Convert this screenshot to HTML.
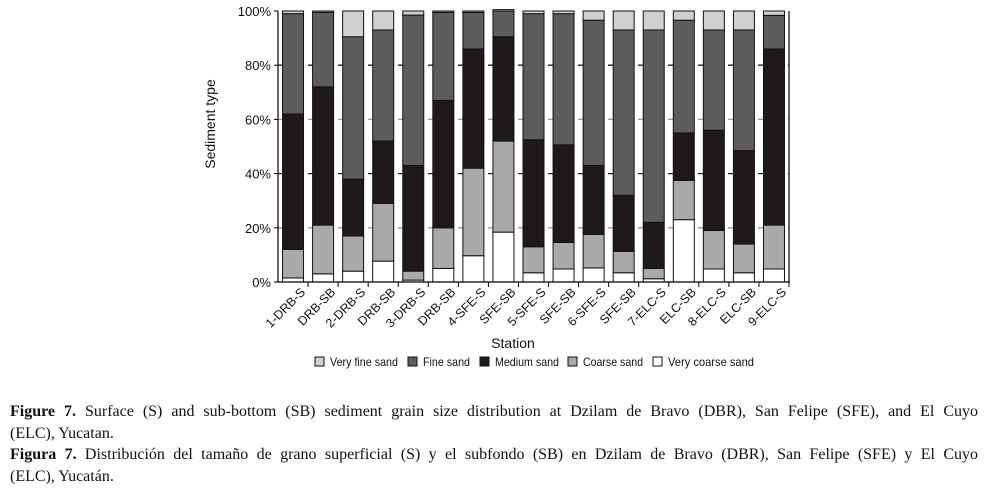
<!DOCTYPE html>
<html><head><meta charset="utf-8"><style>
body{margin:0;background:#fff;width:986px;height:489px;overflow:hidden;font-family:"Liberation Sans",sans-serif}
.cap{position:absolute;left:10px;width:968px;font-family:"Liberation Serif",serif;font-size:16px;line-height:21.5px;text-align:justify;color:#111;white-space:nowrap}
.j{text-align:justify;text-align-last:justify}
</style></head><body>
<svg id="chart" width="986" height="390" style="position:absolute;left:0;top:0" xmlns="http://www.w3.org/2000/svg"></svg>
<div class="cap" style="top:401px"><div class="j"><b>Figure 7.</b> Surface (S) and sub-bottom (SB) sediment grain size distribution at Dzilam de Bravo (DBR), San Felipe (SFE), and El Cuyo</div><div>(ELC), Yucatan.</div></div>
<div class="cap" style="top:444px"><div class="j"><b>Figura 7.</b> Distribución del tamaño de grano superficial (S) y el subfondo (SB) en Dzilam de Bravo (DBR), San Felipe (SFE) y El Cuyo</div><div>(ELC), Yucatán.</div></div>
<script>
const categories=["1-DRB-S","DRB-SB","2-DRB-S","DRB-SB","3-DRB-S","DRB-SB","4-SFE-S","SFE-SB","5-SFE-S","SFE-SB","6-SFE-S","SFE-SB","7-ELC-S","ELC-SB","8-ELC-S","ELC-SB","9-ELC-S"];
const veryCoarse=[1.5,3,4,7.7,0.7,5,9.7,18.4,3.4,4.8,5.2,3.4,1.2,23,4.8,3.4,4.8];
const coarse=[10.5,18,13,21.3,3.3,15,32.3,33.6,9.6,9.8,12.4,7.9,3.8,14.5,14.2,10.6,16.2];
const medium=[50,51,21,23,39,47,44,38.5,39.5,36,25.4,20.7,17,17.5,37,34.5,65];
const fine=[37,27.5,52.5,41,55.5,32.5,13.5,9.5,46.5,48.4,53.6,61,71,41.6,37,44.5,12.4];
const veryFine=[1,0.5,9.5,7,1.5,0.5,0.5,0.5,1,1,3.4,7,7,3.4,7,7,1.6];
const yTicks=[0,20,40,60,80,100];
const seriesNames=["Very fine sand","Fine sand","Medium sand","Coarse sand","Very  coarse sand"];
const NS="http://www.w3.org/2000/svg";
const svg=document.getElementById('chart');
const X0=278,X1=789,Y0=282,Y1=11;
const band=(X1-X0)/categories.length,bw=21;
const y=v=>Y0-(v/100)*(Y0-Y1);
const xc=i=>X0+band*(i+0.5);
function mk(t,a){const e=document.createElementNS(NS,t);for(const k in a)e.setAttribute(k,a[k]);svg.appendChild(e);return e;}
yTicks.forEach(t=>{
 if(t>0&&t<100){const g=mk('line',{x1:X0,x2:X1,y1:y(t),y2:y(t),stroke:(t%40===0)?'#222':'#999','stroke-width':1.3,'stroke-dasharray':'10,5'});
 
 }
 const tk=mk('line',{x1:X0-4,x2:X0,y1:y(t),y2:y(t),stroke:'#000'});
 
 
 const lb=mk('text',{x:X0-7,y:y(t)+5,'text-anchor':'end','font-size':13,fill:'#111'});lb.textContent=t+'%';
 
 
});
const series=[[veryCoarse,'#ffffff','very-coarse'],[coarse,'#a9a9a9','coarse'],[medium,'#1e1a19','medium'],[fine,'#5f5d5c','fine'],[veryFine,'#d0d0d0','very-fine']];
categories.forEach((c,i)=>{
 let acc=0;
 series.forEach(s=>{
  const v=s[0][i];
  const r=mk('rect',{x:xc(i)-bw/2,y:y(acc+v),width:bw,height:y(acc)-y(acc+v),fill:s[1],stroke:'#111','stroke-width':1});
  
  
  acc+=v;
 });
 const tk=mk('line',{x1:X0+band*(i+1),x2:X0+band*(i+1),y1:Y0,y2:Y0+5,stroke:'#000'});
 
 
 const lb=mk('text',{x:0,y:0,'text-anchor':'end','font-size':12.5,fill:'#111',transform:`translate(${xc(i)+13},${Y0+11}) rotate(-45)`});lb.textContent=c;
 
 
});
const ax=mk('path',{d:`M${X0},${Y1} V${Y0} H${X1} V${Y1}`,fill:'none',stroke:'#000','stroke-width':1.2});


const t1=mk('text',{x:0,y:0,'text-anchor':'middle','font-size':14,fill:'#111',transform:'translate(215,124) rotate(-90)'});t1.textContent='Sediment type';


const t2=mk('text',{x:513,y:348,'text-anchor':'middle','font-size':14,fill:'#111'});t2.textContent='Station';


const lx=[315,408,480,568,653],lc=['#d0d0d0','#5f5d5c','#1e1a19','#a9a9a9','#ffffff'],lw=[68,47,64,60,86];
seriesNames.forEach((n,k)=>{
 const b=mk('rect',{x:lx[k],y:357,width:9,height:9,fill:lc[k],stroke:'#111'});
 
 
 const t=mk('text',{x:lx[k]+15,y:366,'font-size':12,fill:'#111','xml:space':'preserve',textLength:lw[k],lengthAdjust:'spacingAndGlyphs'});t.textContent=n;
 
 
});
</script>
</body></html>
